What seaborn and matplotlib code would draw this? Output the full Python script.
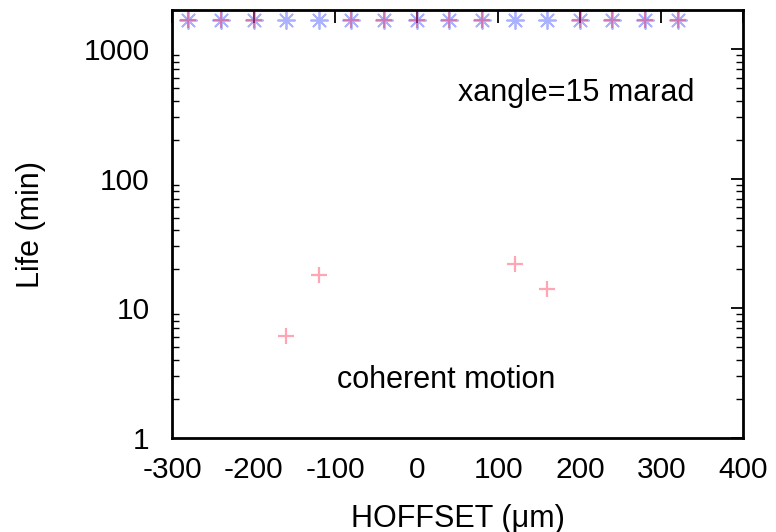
import matplotlib
matplotlib.use("Agg")
import matplotlib.pyplot as plt
import seaborn as sns
import pandas as pd
import numpy as np
from matplotlib.ticker import LogLocator, NullFormatter, FixedLocator

sns.set_theme(style="white")
plt.rcParams['font.family'] = ['Liberation Sans', 'DejaVu Sans']
plt.rcParams['text.color'] = 'black'
plt.rcParams['axes.labelcolor'] = 'black'
plt.rcParams['xtick.color'] = 'black'
plt.rcParams['ytick.color'] = 'black'

hoffset = [-280, -240, -200, -160, -120, -80, -40, 0, 40, 80, 120, 160, 200, 240, 280, 320]
life_blue = [1680] * 16
life_red = [1680, 1680, 1680, 6.1, 18.0, 1680, 1680, 1680, 1680, 1680, 22.0, 14.2, 1680, 1680, 1680, 1680]

xticks = [-300, -200, -100, 0, 100, 200, 300, 400]
yticks = [1, 10, 100, 1000]

df_b = pd.DataFrame({"x": hoffset, "y": life_blue})
df_r = pd.DataFrame({"x": hoffset, "y": life_red})

fig = plt.figure(figsize=(7.76, 5.32), dpi=100)
ax = fig.add_axes([172/776, 1 - 438/532, (743-172)/776, (438-10)/532])

sns.scatterplot(data=df_b, x="x", y="y", ax=ax, marker=(8, 2, 0), s=150,
                color="#4455ff", alpha=0.45, linewidth=1.3, edgecolor="#4455ff")
sns.scatterplot(data=df_r, x="x", y="y", ax=ax, marker="+", s=130,
                color="#ff2244", alpha=0.4, linewidth=1.6)

ax.set_yscale("log")
ax.set_xlim(-300, 400)
ax.set_ylim(1, 2000)
ax.xaxis.set_major_locator(FixedLocator(xticks))
ax.set_xticklabels([str(t) for t in xticks])
ax.yaxis.set_major_locator(FixedLocator(yticks))
ax.set_yticklabels([str(t) for t in yticks])
ax.yaxis.set_minor_locator(LogLocator(base=10, subs=np.arange(2, 10)))
ax.yaxis.set_minor_formatter(NullFormatter())

ax.tick_params(axis="both", which="major", direction="in", length=9, width=1.3,
               top=True, right=True, labelsize=21.5, color="black")
ax.tick_params(axis="x", which="major", pad=13)
ax.tick_params(axis="y", which="major", pad=16)
ax.tick_params(axis="y", which="minor", direction="in", length=5, width=1.0,
               left=True, right=True)
for sp in ax.spines.values():
    sp.set_linewidth(2)
    sp.set_color("black")

ax.set_xlabel("HOFFSET (μm)", fontsize=22, labelpad=14)
ax.set_ylabel("Life (min)", fontsize=22, labelpad=27)

ax.text(0.7075, 0.806, "xangle=15 marad", transform=ax.transAxes, fontsize=22,
        ha="center", va="center")
ax.text(0.48, 0.1355, "coherent motion", transform=ax.transAxes, fontsize=22,
        ha="center", va="center")

fig.savefig("out.png", dpi=100)
